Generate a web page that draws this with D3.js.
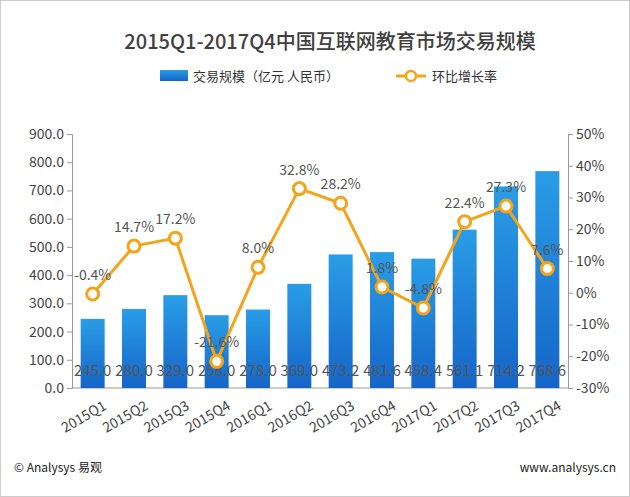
<!DOCTYPE html><html><head><meta charset="utf-8"><script src="https://cdn.jsdelivr.net/npm/d3@7"></script>
<style>body{margin:0;background:#fff}</style></head><body><svg id="c" width="630" height="497"></svg>
<script>
const categories=["2015Q1","2015Q2","2015Q3","2015Q4","2016Q1","2016Q2","2016Q3","2016Q4","2017Q1","2017Q2","2017Q3","2017Q4"];
const volume=[245.0,280.0,329.0,258.0,278.0,369.0,473.2,481.6,458.4,561.1,714.2,768.6];
const growth=[-0.4,14.7,17.2,-21.6,8.0,32.8,28.2,1.8,-4.8,22.4,27.3,7.6];
const leftTicks=[0,100,200,300,400,500,600,700,800,900];
const rightTicks=[-30,-20,-10,0,10,20,30,40,50];
const svg=d3.select("#c");
const F="'Microsoft YaHei','Noto Sans CJK SC',sans-serif";
svg.append("rect").attr("x",0.5).attr("y",0.5).attr("width",629).attr("height",496).attr("fill","none").attr("stroke","#ccc");
const L=72,R=568,T=134,B=388;
const x=d3.scaleBand().domain(categories).range([L,R]).paddingInner(0.42).paddingOuter(0.21);
const y=d3.scaleLinear().domain([0,900]).range([B,T]);
const y2=d3.scaleLinear().domain([-30,50]).range([B,T]);
const defs=svg.append("defs");
const g=defs.append("linearGradient").attr("id","bg").attr("x1",0).attr("y1",0).attr("x2",0).attr("y2",1);
g.append("stop").attr("offset","0%").attr("stop-color","#2a9de6");
g.append("stop").attr("offset","100%").attr("stop-color","#1565c8");
svg.append("text").attr("x",330).attr("y",49).attr("text-anchor","middle").attr("font-family",F).attr("font-size",20).attr("font-weight",500).attr("fill","#404040").text("2015Q1-2017Q4中国互联网教育市场交易规模");
svg.append("rect").attr("x",160).attr("y",70).attr("width",28).attr("height",11).attr("fill","url(#bg)");
svg.append("text").attr("x",193).attr("y",81).attr("font-family",F).attr("font-size",13).attr("fill","#333").text("交易规模（亿元 人民币）");
svg.append("line").attr("x1",396).attr("x2",426).attr("y1",76).attr("y2",76).attr("stroke","#f5a31a").attr("stroke-width",3);
svg.append("circle").attr("cx",411).attr("cy",76).attr("r",5).attr("fill","#fff").attr("stroke","#f5a31a").attr("stroke-width",2.5);
svg.append("text").attr("x",432).attr("y",81).attr("font-family",F).attr("font-size",13).attr("fill","#333").text("环比增长率");
const ax=svg.append("g").attr("transform",`translate(${L},0)`).call(d3.axisLeft(y).tickValues(leftTicks).tickFormat(d3.format(".1f")).tickSize(5));
const ax2=svg.append("g").attr("transform",`translate(${R},0)`).call(d3.axisRight(y2).tickValues(rightTicks).tickFormat(d=>d+"%").tickSize(5));
[ax,ax2].forEach(a=>{a.select(".domain").attr("stroke","#999");a.selectAll("line").attr("stroke","#999");a.selectAll("text").attr("font-family",F).attr("font-size",14).attr("fill","#444");});
svg.append("line").attr("x1",L).attr("x2",R).attr("y1",B).attr("y2",B).attr("stroke","#999");
svg.selectAll(".bar").data(volume).enter().append("rect").attr("x",(d,i)=>x(categories[i])).attr("width",x.bandwidth()).attr("y",d=>y(d)).attr("height",d=>B-y(d)).attr("fill","url(#bg)");
svg.selectAll(".xl").data(categories).enter().append("text").attr("transform",d=>`translate(${x(d)+x.bandwidth()/2+10},${B+12}) rotate(-30)`).attr("text-anchor","end").attr("dy","0.7em").attr("font-family",F).attr("font-size",14).attr("fill","#444").text(d=>d);
const cx=i=>x(categories[i])+x.bandwidth()/2;
svg.selectAll(".vl").data(volume).enter().append("text").attr("x",(d,i)=>cx(i)).attr("y",376).attr("text-anchor","middle").attr("font-family",F).attr("font-size",15).attr("fill","#555").text(d=>d.toFixed(1));
svg.append("path").datum(growth).attr("d",d3.line().x((d,i)=>cx(i)).y(d=>y2(d))).attr("fill","none").attr("stroke","#f5a31a").attr("stroke-width",3);
svg.selectAll(".pt").data(growth).enter().append("circle").attr("cx",(d,i)=>cx(i)).attr("cy",d=>y2(d)).attr("r",6).attr("fill","#fff").attr("stroke","#f5a31a").attr("stroke-width",3);
svg.selectAll(".gl").data(growth).enter().append("text").attr("x",(d,i)=>cx(i)).attr("y",d=>y2(d)-14).attr("text-anchor","middle").attr("font-family",F).attr("font-size",14).attr("fill","#555").text(d=>d.toFixed(1)+"%");
svg.append("text").attr("x",14).attr("y",472).attr("font-family",F).attr("font-size",12).attr("fill","#222").text("© Analysys 易观");
svg.append("text").attr("x",616).attr("y",472).attr("text-anchor","end").attr("font-family",F).attr("font-size",12).attr("fill","#222").text("www.analysys.cn");
</script></body></html>
